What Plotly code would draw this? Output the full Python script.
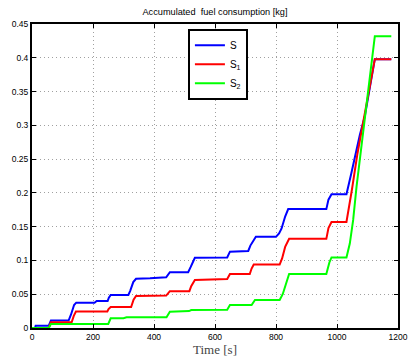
import plotly.graph_objects as go

# Data
t_s = [0, 10, 12, 55, 62, 120, 128, 138, 145, 205, 212, 248, 252, 258, 316, 322, 332, 341, 387, 440, 452, 512, 520, 534, 640, 649, 709, 716, 734, 800, 810, 818, 830, 840, 965, 972, 982, 1031, 1047, 1066, 1075, 1091, 1124, 1178]
v_s = [0, 0, 0.0035, 0.0035, 0.011, 0.011, 0.02, 0.034, 0.0375, 0.0375, 0.040, 0.040, 0.045, 0.049, 0.049, 0.055, 0.068, 0.0728, 0.0735, 0.075, 0.0825, 0.0825, 0.09, 0.104, 0.1045, 0.113, 0.114, 0.122, 0.135, 0.135, 0.14, 0.147, 0.165, 0.176, 0.176, 0.19, 0.198, 0.198, 0.229, 0.271, 0.286, 0.313, 0.398, 0.398]

t_s1 = [0, 55, 62, 130, 137, 144, 247, 251, 258, 325, 333, 341, 440, 452, 516, 522, 534, 640, 649, 714, 720, 727, 812, 820, 830, 843, 965, 972, 982, 1031, 1049, 1067, 1088, 1124, 1178]
v_s1 = [0, 0, 0.0085, 0.0085, 0.018, 0.0245, 0.0245, 0.028, 0.031, 0.031, 0.042, 0.0475, 0.048, 0.0545, 0.0545, 0.062, 0.071, 0.0725, 0.08, 0.08, 0.088, 0.094, 0.094, 0.103, 0.12, 0.132, 0.132, 0.148, 0.157, 0.157, 0.205, 0.258, 0.31, 0.398, 0.398]

t_s2 = [0, 55, 62, 250, 258, 300, 310, 441, 452, 515, 522, 640, 649, 720, 731, 812, 822, 832, 843, 965, 975, 982, 1031, 1042, 1053, 1064, 1080, 1096, 1124, 1178]
v_s2 = [0, 0, 0.006, 0.006, 0.0143, 0.0145, 0.0158, 0.016, 0.024, 0.025, 0.0265, 0.027, 0.034, 0.034, 0.0415, 0.0415, 0.05, 0.065, 0.08, 0.08, 0.097, 0.1045, 0.1045, 0.125, 0.16, 0.209, 0.269, 0.333, 0.432, 0.432]

names = ["S", "S<sub>1</sub>", "S<sub>2</sub>"]
colors = ["#0000ff", "#ff0000", "#00ff00"]

x_ticks = [0, 200, 400, 600, 800, 1000, 1200]
y_ticks = [0, 0.05, 0.1, 0.15, 0.2, 0.25, 0.3, 0.35, 0.4, 0.45]
y_ticklabels = ["0", "0.05", "0.1", "0.15", "0.2", "0.25", "0.3", "0.35", "0.4", "0.45"]

fig = go.Figure()
for t, v, n, c in zip([t_s, t_s1, t_s2], [v_s, v_s1, v_s2], names, colors):
    fig.add_trace(go.Scatter(x=t, y=v, mode="lines", name=n,
                             line=dict(color=c, width=2)))

axis_common = dict(
    showline=True, linecolor="black", linewidth=2, mirror="ticks",
    ticks="inside", ticklen=4, tickcolor="black", tickwidth=1,
    showgrid=True, gridcolor="#a0a0a0", gridwidth=1, griddash="1px,3px",
    zeroline=False, automargin=False,
    tickfont=dict(family="Liberation Sans, Arial", size=8.5, color="black"),
)

fig.update_layout(
    width=411, height=358,
    margin=dict(l=32, r=13, t=24, b=30),
    paper_bgcolor="white", plot_bgcolor="white",
    title=dict(text="Accumulated  fuel consumption [kg]", x=0.5, xref="paper",
               y=1 - 12 / 358, yref="container", yanchor="middle",
               font=dict(family="Liberation Sans, Arial", size=9.2, color="black")),
    xaxis=dict(range=[0, 1200], tickvals=x_ticks,
               title=dict(text="Time [s]", standoff=1,
                          font=dict(family="Liberation Serif, Times New Roman", size=13, color="#444444")),
               **axis_common),
    yaxis=dict(range=[0, 0.45], tickvals=y_ticks, ticktext=y_ticklabels, **axis_common),
    legend=dict(x=0.426, y=0.984, xanchor="left", yanchor="top",
                bgcolor="white", bordercolor="black", borderwidth=2,
                itemwidth=30, tracegroupgap=0,
                font=dict(family="Liberation Sans, Arial", size=10, color="black")),
    showlegend=True,
)

fig.write_html("out.html", config={"displayModeBar": False},
               post_script="document.body.style.margin='0';document.body.style.overflow='hidden';")
